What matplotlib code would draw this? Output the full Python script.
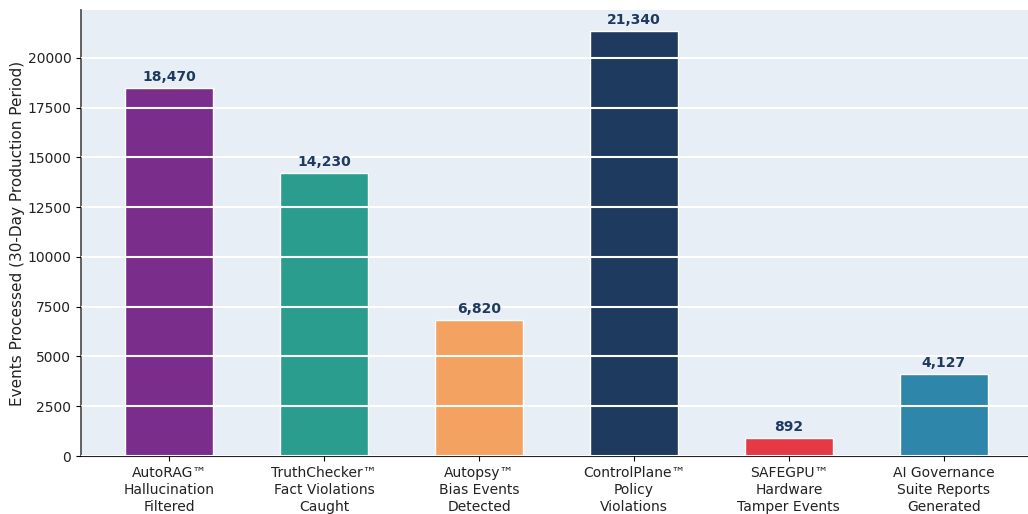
import matplotlib.pyplot as plt

plt.rcParams["font.family"] = ["DejaVu Sans"]

# event counts per product over the 30-day window
products = [
    "AutoRAG\u2122\nHallucination\nFiltered",
    "TruthChecker\u2122\nFact Violations\nCaught",
    "Autopsy\u2122\nBias Events\nDetected",
    "ControlPlane\u2122\nPolicy\nViolations",
    "SAFEGPU\u2122\nHardware\nTamper Events",
    "AI Governance\nSuite Reports\nGenerated",
]
events = [18470, 14230, 6820, 21340, 892, 4127]
bar_colors = ["#7b2d8b", "#2a9d8f", "#f4a261", "#1f3a5f", "#e63946", "#2e86ab"]

fig = plt.figure(figsize=(10.28, 5.14), dpi=100)
ax = fig.add_axes([81 / 1028, 58 / 514, 951 / 1028, 446 / 514])
ax.set_facecolor("#e8eef5")

x = range(len(products))
bars = ax.bar(x, events, width=0.57, color=bar_colors, edgecolor="white",
              linewidth=1, zorder=2)

# white grid sits on top of the bars
ax.set_axisbelow(False)
ax.yaxis.grid(True, color="white", linewidth=1.5)

ax.bar_label(bars, labels=[f"{v:,}" for v in events], padding=3,
             fontsize=10, fontweight="bold", color="#1f3a5f")

ax.set_xlim(-0.57, 5.57)
ax.set_ylim(0, 22400)
ax.set_yticks(range(0, 20001, 2500))
ax.set_xticks(list(x))
ax.set_xticklabels(products, linespacing=1.3)
ax.tick_params(axis="both", labelsize=10, labelcolor="#222222")
ax.set_ylabel("Events Processed (30-Day Production Period)", fontsize=11,
              color="#222222", labelpad=2)

ax.spines["top"].set_visible(False)
ax.spines["right"].set_visible(False)
ax.spines["left"].set_color("#555555")
ax.spines["left"].set_linewidth(1.3)
ax.spines["bottom"].set_color("#222222")

fig.savefig("out.png", dpi=100)
